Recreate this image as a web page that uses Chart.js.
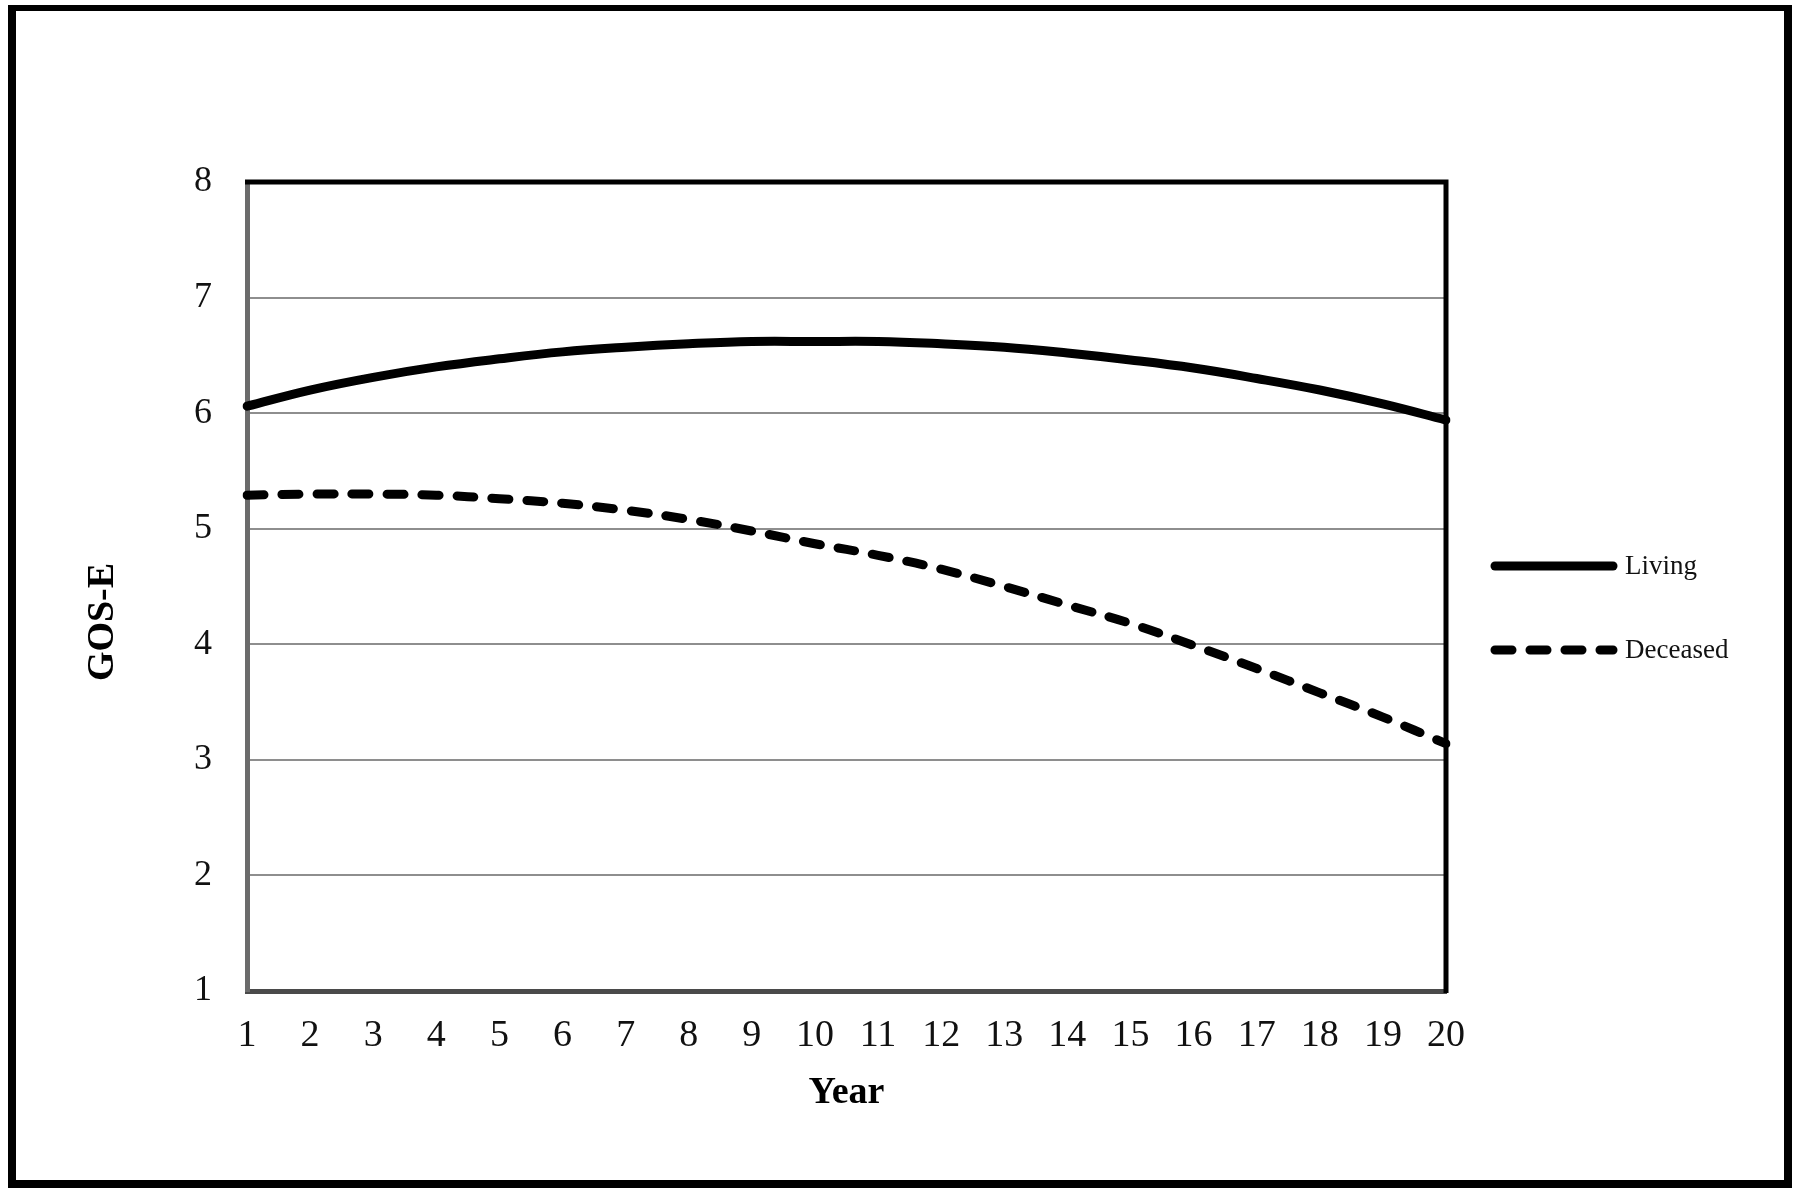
<!DOCTYPE html>
<html>
<head>
<meta charset="utf-8">
<script src="https://cdn.jsdelivr.net/npm/chart.js@4.4.1/dist/chart.umd.min.js"></script>
<style>
  html, body { margin: 0; padding: 0; background: #fff; }
  #wrap { width: 1800px; height: 1195px; position: relative; }
</style>
</head>
<body>
<div id="wrap"><canvas id="chart" width="1800" height="1195"></canvas></div>
<script>
// Data (GOS-E score by year)
const YEARS    = [1, 2, 3, 4, 5, 6, 7, 8, 9, 10, 11, 12, 13, 14, 15, 16, 17, 18, 19, 20];
const LIVING   = [6.06, 6.20, 6.31, 6.40, 6.47, 6.53, 6.57, 6.60, 6.62, 6.62,
                  6.62, 6.60, 6.57, 6.52, 6.46, 6.39, 6.30, 6.20, 6.08, 5.94];
const DECEASED = [5.29, 5.30, 5.30, 5.29, 5.26, 5.22, 5.16, 5.08, 4.98, 4.87,
                  4.77, 4.65, 4.50, 4.34, 4.18, 3.99, 3.79, 3.58, 3.37, 3.14];
const Y_TICKS  = [1, 2, 3, 4, 5, 6, 7, 8];
const SERIES_NAMES = ["Living", "Deceased"];
const X_TITLE = "Year";
const Y_TITLE = "GOS-E";

const SERIF = "'Liberation Serif', 'Times New Roman', serif";

// ---------------------------------------------------------------------------
// Decorations: outer frame, plot border, axis titles, legend
// ---------------------------------------------------------------------------
const decor = {
  id: "decor",
  beforeDraw(chart) {
    const { ctx, width, height } = chart;
    ctx.save();
    ctx.fillStyle = "#fff";
    ctx.fillRect(0, 0, width, height);
    ctx.fillStyle = "#000";
    ctx.fillRect(8, 5, 1784, 6);      // top
    ctx.fillRect(8, 5, 8, 1183);      // left
    ctx.fillRect(1784, 5, 8, 1183);   // right
    ctx.fillRect(8, 1180, 1784, 8);   // bottom
    ctx.restore();
  },
  afterDatasetsDraw(chart) {
    const { ctx, chartArea: a } = chart;
    ctx.save();
    ctx.strokeStyle = "#000";
    ctx.lineWidth = 5;
    ctx.beginPath();
    ctx.moveTo(a.left - 2, a.top);
    ctx.lineTo(a.right, a.top);
    ctx.lineTo(a.right, a.bottom + 2);
    ctx.stroke();
    ctx.restore();
  },
  afterDraw(chart) {
    const { ctx, chartArea: a } = chart;
    ctx.save();
    ctx.fillStyle = "#000";
    ctx.textAlign = "center";
    ctx.textBaseline = "middle";
    ctx.font = `bold 38px ${SERIF}`;
    ctx.fillText(X_TITLE, (a.left + a.right) / 2, 1093);

    ctx.translate(103, 622);
    ctx.rotate(-Math.PI / 2);
    ctx.fillText(Y_TITLE, 0, 0);
    ctx.restore();

    // legend
    const rows = [566, 650];
    chart.data.datasets.forEach((ds, i) => {
      ctx.save();
      ctx.strokeStyle = ds.borderColor;
      ctx.lineWidth = 9;
      ctx.lineCap = "round";
      ctx.setLineDash(ds.borderDash.length ? [17, 18] : []);
      ctx.beginPath();
      ctx.moveTo(1495, rows[i]);
      ctx.lineTo(1613, rows[i]);
      ctx.stroke();
      ctx.setLineDash([]);
      ctx.fillStyle = "#111";
      ctx.font = `27px ${SERIF}`;
      ctx.textAlign = "left";
      ctx.textBaseline = "middle";
      ctx.fillText(ds.label, 1625, rows[i] + 1);
      ctx.restore();
    });
  },
};

// ---------------------------------------------------------------------------
// Chart
// ---------------------------------------------------------------------------
const lineDataset = (label, values, dash) => ({
  label,
  data: values,
  borderColor: "#000",
  backgroundColor: "#000",
  borderWidth: 9,
  borderDash: dash,
  borderCapStyle: "round",
  borderJoinStyle: "round",
  pointRadius: 0,
  tension: 0.4,
  fill: false,
});

new Chart(document.getElementById("chart"), {
  type: "line",
  data: {
    labels: YEARS,
    datasets: [
      lineDataset(SERIES_NAMES[0], LIVING, []),
      lineDataset(SERIES_NAMES[1], DECEASED, [17, 18]),
    ],
  },
  options: {
    responsive: false,
    animation: false,
    devicePixelRatio: 1,
    layout: { padding: { top: 182, right: 354, left: 0, bottom: 0 } },
    plugins: {
      legend: { display: false },
      tooltip: { enabled: false },
    },
    scales: {
      x: {
        offset: false,
        grid: { display: false, drawTicks: false },
        border: { display: true, color: "#4a4a4a", width: 5 },
        ticks: {
          color: "#111",
          font: { family: SERIF, size: 38 },
          padding: 22,
          maxRotation: 0,
          autoSkip: false,
        },
        afterFit(scale) { scale.height = 204; },
      },
      y: {
        min: 1,
        max: 8,
        afterBuildTicks(scale) { scale.ticks = Y_TICKS.map(v => ({ value: v })); },
        grid: { color: "#8e8e8e", lineWidth: 2, drawTicks: false },
        border: { display: true, color: "#6b6b6b", width: 5 },
        ticks: {
          color: "#111",
          font: { family: SERIF, size: 36 },
          padding: 35,
        },
        afterFit(scale) { scale.width = 247; },
      },
    },
  },
  plugins: [decor],
});
</script>
</body>
</html>
